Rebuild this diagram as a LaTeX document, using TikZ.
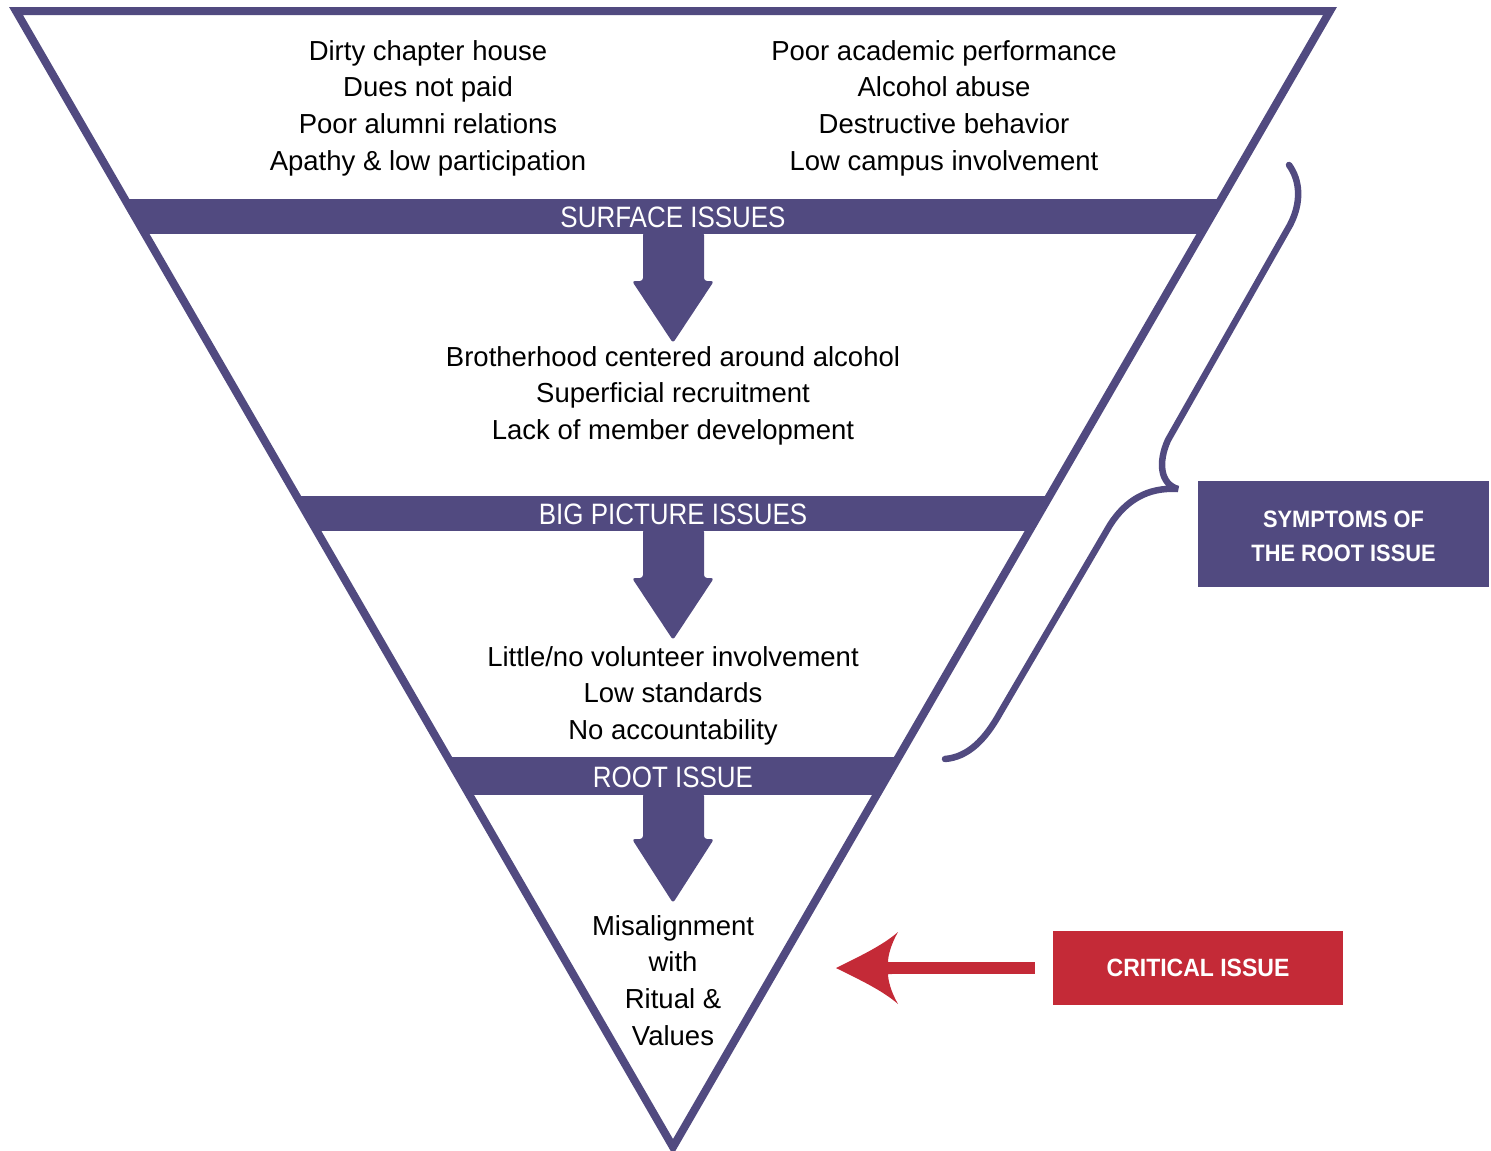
\documentclass[tikz,border=0pt]{standalone}
\usepackage{fontspec}
\setmainfont{Liberation Sans}
\newfontfamily\bandfont[FakeStretch=0.88]{Liberation Sans}
\newfontfamily\boxfont[FakeStretch=0.92]{Liberation Sans}
\definecolor{pp}{HTML}{514A80}
\definecolor{rd}{HTML}{C42A37}
\begin{document}
\begin{tikzpicture}[x=1pt,y=-1pt,
  body/.style={font=\fontsize{27.5}{36.7}\selectfont, align=center, inner sep=0pt, anchor=north, text=black},
  bandlabel/.style={font=\bandfont\fontsize{29.5}{29.5}\selectfont, text=white, inner sep=0pt},
  bigarrow/.style={fill=pp, rounded corners=3pt},
  tagbox/.style={inner sep=0pt, text=white, align=center, font=\boxfont\bfseries\fontsize{23.7}{34}\selectfont}
]
\useasboundingbox (0,0) rectangle (1491,1151);
\coordinate (TL) at (16,11);
\coordinate (TR) at (1330,11);
\coordinate (AP) at (673,1147);
% bands
\begin{scope}
  \clip (TL) -- (TR) -- (AP) -- cycle;
  \fill[pp] (0,199) rectangle (1491,234);
  \fill[pp] (0,496) rectangle (1491,531);
  \fill[pp] (0,757) rectangle (1491,795);
\end{scope}
% triangle outline
\draw[pp, line width=8pt, line join=miter] (TL) -- (TR) -- (AP) -- cycle;
% band labels
\node[bandlabel] (surf) at (673,217) {SURFACE ISSUES};
\node[bandlabel] (bigp) at (673,514) {BIG PICTURE ISSUES};
\node[bandlabel] (root) at (673,777) {ROOT ISSUE};
% big arrows
\foreach \ya/\yh/\yt in {232/281/343, 529/578/640, 793/839/903}{
  \fill[bigarrow] (643,\ya) -- (643,\yh) -- (632,\yh) -- (673,\yt) -- (714,\yh) -- (704,\yh) -- (704,\ya) -- cycle;
}
% texts
\node[body] (lefttxt) at (428,40) {Dirty chapter house\\Dues not paid\\Poor alumni relations\\Apathy \& low participation};
\node[body] (righttxt) at (944,40) {Poor academic performance\\Alcohol abuse\\Destructive behavior\\Low campus involvement};
\node[body] (midtxt) at (673,346) {Brotherhood centered around alcohol\\Superficial recruitment\\Lack of member development};
\node[body] (lowtxt) at (673,646) {Little/no volunteer involvement\\Low standards\\No accountability};
\node[body] (roottxt) at (673,915) {Misalignment\\with\hspace*{10pt}\\Ritual \&\\Values};
% brace
\draw[pp, line width=6.5pt, line cap=round, line join=miter, miter limit=3]
  (1289,165) .. controls (1300,180) and (1302,202) .. (1290,225)
  -- (1168,440) .. controls (1158,462) and (1160,484) .. (1178,489)
  .. controls (1148,487) and (1126,500) .. (1110,525)
  -- (1000,713) .. controls (985,740) and (968,757) .. (945,759);
% symptoms box
\node[fill=pp, minimum width=291pt, minimum height=106pt, inner sep=0pt] (symp) at (1343.5,534) {};
\node[tagbox] (symptxt) at (1343.5,536) {SYMPTOMS OF\\THE ROOT ISSUE};
% critical box
\node[tagbox, fill=rd, minimum width=290pt, minimum height=74pt, font=\boxfont\bfseries\fontsize{25}{30}\selectfont] (crit) at (1198,968) {CRITICAL ISSUE};
% red arrow
\coordinate (ctip) at (836,968);
\coordinate (cshaft) at (890,968);
\draw[rd, line width=12pt, shorten <=18pt] (crit.west) -- (cshaft);
\fill[rd, shift={(ctip)}] (0,0) .. controls (22,-11) and (46,-22) .. (62,-36)
  .. controls (55,-24) and (52,-12) .. (52,-6) -- (56,-6) -- (56,6) -- (52,6)
  .. controls (52,12) and (55,24) .. (62,36)
  .. controls (46,22) and (22,11) .. (0,0) -- cycle;
\end{tikzpicture}
\end{document}
